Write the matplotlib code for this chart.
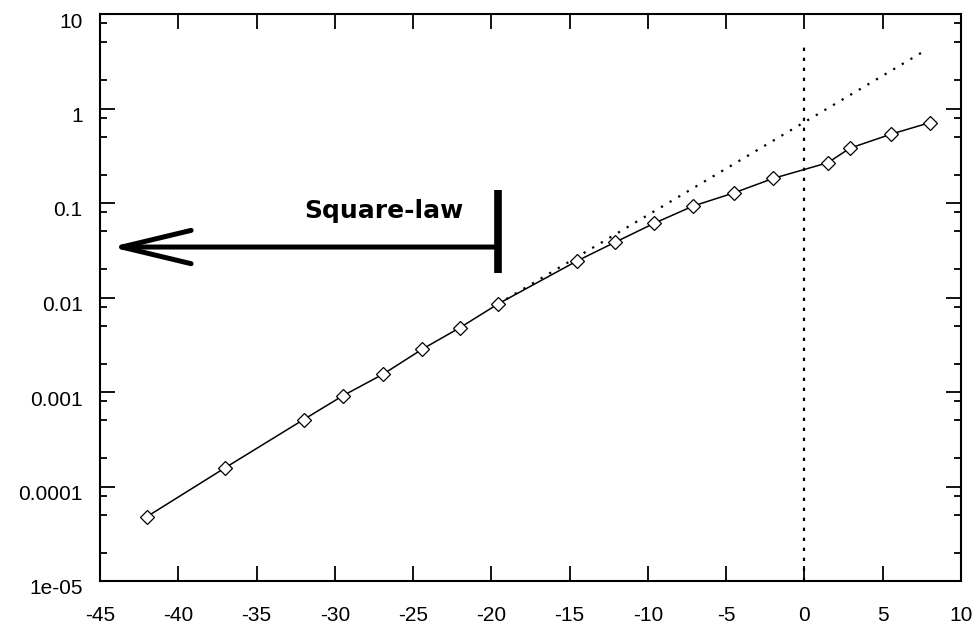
import matplotlib
matplotlib.use("Agg")
import matplotlib.pyplot as plt
import matplotlib.transforms as mtransforms
import numpy as np

# measured points (input level vs output)
x_data = [-42.0, -37.0, -32.0, -29.5, -26.9, -24.4, -22.0, -19.6, -14.5, -12.1,
          -9.6, -7.1, -4.5, -2.0, 1.5, 2.9, 5.5, 8.0]
y_data = [4.8e-5, 1.58e-4, 5.1e-4, 9.1e-4, 1.55e-3, 2.85e-3, 4.8e-3, 8.5e-3, 0.0245,
          0.0384, 0.061, 0.093, 0.128, 0.182, 0.267, 0.38, 0.533, 0.708]

# square-law extrapolation (dotted)
sq_x = [-19.6, 7.7]
sq_y = [8.5e-3, 4.1]

# vertical reference at x = 0
vline_x = 0
vline_y = [1e-5, 5.0]

# annotation: arrow and bar
arrow_tip_x = -44.3
arrow_y = 0.0342
bar_x = -19.6
bar_y = [0.0183, 0.137]
label_text = "Square-law"
label_x = -26.85
label_y = 0.069

x_ticks = [-45, -40, -35, -30, -25, -20, -15, -10, -5, 0, 5, 10]
y_ticks = [1e-5, 1e-4, 1e-3, 1e-2, 1e-1, 1, 10]
y_tick_labels = ["1e-05", "0.0001", "0.001", "0.01", "0.1", "1", "10"]
minor_mult = [2, 5, 8]

fig = plt.figure(figsize=(9.74, 6.28), dpi=100)
ax = fig.add_axes([100/974, 47/628, 861/974, 567/628])

ax.set_yscale("log")
ax.set_xlim(-45, 10)
ax.set_ylim(1e-5, 10)

# data
ax.plot(x_data, y_data, color="black", lw=1.1, marker="D", markersize=7,
        markerfacecolor="white", markeredgecolor="black", markeredgewidth=0.9, zorder=3)
ax.plot(sq_x, sq_y, color="black", lw=1.6, linestyle=(0, (1, 3.5)), zorder=2)
ax.plot([vline_x, vline_x], vline_y, color="black", lw=1.6, linestyle=(0, (1.5, 3)), zorder=2)

# annotation
ax.annotate("", xy=(arrow_tip_x, arrow_y), xytext=(bar_x, arrow_y),
            arrowprops=dict(arrowstyle="->, head_length=5.0, head_width=1.2",
                            lw=3.6, color="black", shrinkA=0, shrinkB=0,
                            mutation_scale=10))
ax.plot([bar_x, bar_x], bar_y, color="black", lw=5.5, solid_capstyle="butt")
ax.text(label_x, label_y, label_text, ha="center", va="baseline",
        fontsize=18, fontweight="bold", family="DejaVu Sans")

# ticks
ax.set_xticks(x_ticks)
ax.set_xticklabels([str(v) for v in x_ticks])
ax.set_yticks(y_ticks)
ax.set_yticklabels(y_tick_labels)
minors = [m * 10.0**k for k in range(-5, 1) for m in minor_mult]
ax.yaxis.set_minor_locator(matplotlib.ticker.FixedLocator(minors))
ax.yaxis.set_minor_formatter(matplotlib.ticker.NullFormatter())
ax.xaxis.set_minor_locator(matplotlib.ticker.NullLocator())

ax.tick_params(axis="both", which="major", direction="in", length=10.5, width=1.3,
               top=True, right=True, labelsize=15)
ax.tick_params(axis="both", which="minor", direction="in", length=5, width=1.3,
               top=True, right=True)
ax.tick_params(axis="x", which="major", pad=18)
ax.tick_params(axis="y", which="major", pad=12.5)

for lab in ax.get_xticklabels() + ax.get_yticklabels():
    lab.set_family("Liberation Sans")
offset = mtransforms.ScaledTranslation(0, -6/100, fig.dpi_scale_trans)
for lab in ax.get_yticklabels():
    lab.set_transform(lab.get_transform() + offset)

for s in ax.spines.values():
    s.set_linewidth(1.5)

fig.savefig("out.png", dpi=100)
